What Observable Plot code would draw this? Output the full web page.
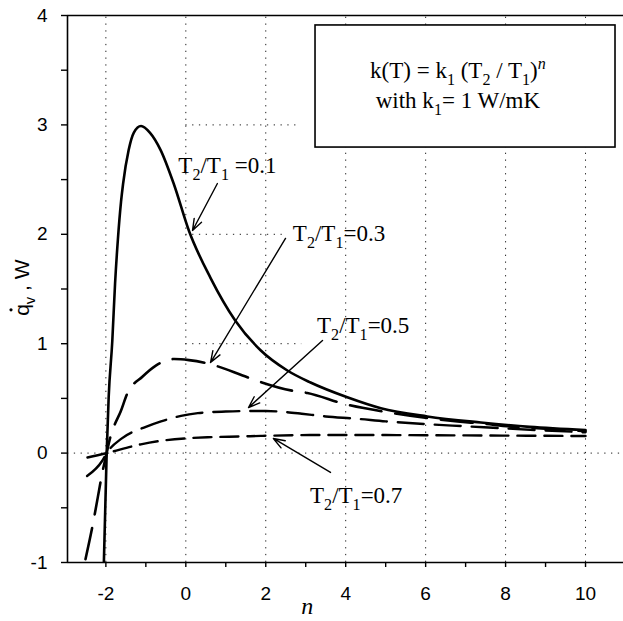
<!DOCTYPE html>
<html><head><meta charset="utf-8">
<script src="https://cdn.jsdelivr.net/npm/d3@7"></script>
<script src="https://cdn.jsdelivr.net/npm/@observablehq/plot@0.6"></script>
<style>
html,body{margin:0;padding:0;background:#fff;}
#chart{width:623px;height:621px;}
</style></head><body><div id="chart"></div>
<script>
// ---- data ----
const ratios = ["0.1", "0.3", "0.5", "0.7"];

const n01 = [-2.05, -1.98, -1.93, -1.84, -1.77, -1.70, -1.62, -1.57, -1.43, -1.30, -1.12, -0.90, -0.63, -0.30, 0.08, 0.62, 1.24, 1.87, 2.54, 3.12, 4.04, 4.88, 6.04, 7.38, 8.6, 10];
const q01 = [-1.0, 0.0, 0.51, 1.02, 1.55, 1.95, 2.30, 2.46, 2.77, 2.93, 2.99, 2.93, 2.77, 2.46, 2.03, 1.60, 1.21, 0.94, 0.755, 0.645, 0.51, 0.41, 0.335, 0.28, 0.24, 0.21];

const n03 = [-2.51, -2.32, -2.20, -2.10, -1.98, -1.90, -1.79, -1.63, -1.47, -1.08, -0.75, -0.29, 0.08, 0.54, 1.42, 1.79, 2.67, 3.04, 3.96, 5.1, 6.04, 6.8, 7.4, 8.2, 8.7, 10];
const q03 = [-0.97, -0.64, -0.40, -0.20, 0.0, 0.13, 0.25, 0.38, 0.54, 0.70, 0.80, 0.86, 0.85, 0.82, 0.71, 0.66, 0.57, 0.55, 0.45, 0.37, 0.32, 0.29, 0.27, 0.24, 0.23, 0.20];

const n05 = [-2.47, -2.09, -1.98, -1.60, -1.00, -0.62, -0.12, 0.30, 1.00, 1.60, 2.00, 2.50, 2.90, 3.50, 4.25, 5.0, 6.0, 7.0, 8.0, 10];
const q05 = [-0.21, -0.07, 0.0, 0.135, 0.24, 0.29, 0.34, 0.365, 0.38, 0.385, 0.385, 0.375, 0.36, 0.335, 0.315, 0.29, 0.265, 0.245, 0.225, 0.19];

const n07 = [-2.46, -1.98, -1.875, -1.125, -0.67, 0.0, 0.54, 1.375, 1.875, 3.1, 4.0, 5.0, 6.0, 7.0, 8.0, 9.0, 10];
const q07 = [-0.04, 0.0, 0.01, 0.08, 0.11, 0.135, 0.145, 0.152, 0.157, 0.165, 0.165, 0.165, 0.163, 0.162, 0.16, 0.158, 0.156];

const xTicks = [-2, -1, 0, 1, 2, 3, 4, 5, 6, 7, 8, 9, 10];
const xTickLabels = [-2, 0, 2, 4, 6, 8, 10];
const yTicks = [-1, -0.5, 0, 0.5, 1, 1.5, 2, 2.5, 3, 3.5, 4];
const yTickLabels = [-1, 0, 1, 2, 3, 4];
const xDomain = [-2.96, 10.95];
const yDomain = [-1, 4];

// grid lines
const xGrid = [-2, 0, 2, 4, 6, 8, 10];
const hGrid = [
  {y: 0, x1: -2.96, x2: 10.95},
  {y: 1, x1: 0, x2: 2.9},
  {y: 2, x1: 0, x2: 2.45},
  {y: 3, x1: 0, x2: 2.85}
];

// annotations (data coordinates)
const labelPos = [
  {ratio: "0.1", x: -0.175, y: 2.553, text: " =0.1"},
  {ratio: "0.3", x: 2.69, y: 1.934, text: "=0.3"},
  {ratio: "0.5", x: 3.295, y: 1.096, text: "=0.5"},
  {ratio: "0.7", x: 3.12, y: -0.461, text: "=0.7"}
];
const arrows = [
  {x1: 0.79, y1: 2.464, x2: 0.168, y2: 2.035},
  {x1: 2.494, y1: 1.962, x2: 0.618, y2: 0.828},
  {x1: 3.42, y1: 1.029, x2: 1.569, y2: 0.417},
  {x1: 3.62, y1: -0.177, x2: 2.19, y2: 0.134}
];
const box = [{x1: 3.245, x2: 10.75, y1: 3.909, y2: 2.793, cx: 6.82, line1: 3.424, line2: 3.15}];

// ---- build rows ----
const series = [
  {ratio: "0.1", n: n01, q: q01, dash: null, w: 2.6},
  {ratio: "0.3", n: n03, q: q03, dash: "32,14", w: 2.6},
  {ratio: "0.5", n: n05, q: q05, dash: "26,11", w: 2.4},
  {ratio: "0.7", n: n07, q: q07, dash: "18,9", w: 2.4}
];

const lineMarks = series.map(s => Plot.line(s.n.map((v, i) => ({n: v, q: s.q[i]})), {
  x: "n", y: "q", stroke: "black", strokeWidth: s.w,
  strokeDasharray: s.dash || undefined, curve: "monotone-x", clip: true
}));

const dotted = "1.3,5.5";

const plot = Plot.plot({
  width: 623, height: 621,
  marginLeft: 67, marginRight: 0, marginTop: 15, marginBottom: 59,
  style: {fontFamily: "'Liberation Sans', Arial, sans-serif", fontSize: "19px", background: "white", color: "black"},
  y: {domain: yDomain, label: null},
  x: {domain: xDomain, label: null},
  marks: [
    Plot.ruleX(xGrid, {y1: yDomain[0], y2: yDomain[1], stroke: "#222", strokeWidth: 1, strokeDasharray: dotted}),
    Plot.ruleY(hGrid, {y: "y", x1: "x1", x2: "x2", stroke: "#222", strokeWidth: 1, strokeDasharray: dotted}),
    ...lineMarks,
    Plot.arrow(arrows, {x1: "x1", y1: "y1", x2: "x2", y2: "y2", stroke: "black", strokeWidth: 1.4, headLength: 13, headAngle: 40}),
    Plot.rect(box, {x1: "x1", x2: "x2", y1: "y1", y2: "y2", fill: "white", stroke: "black", strokeWidth: 1.6}),
    Plot.ruleY([yDomain[1]], {stroke: "black", strokeWidth: 1.6}),
    Plot.ruleY([yDomain[0]], {stroke: "black", strokeWidth: 1.6}),
    Plot.ruleX([xDomain[0]], {stroke: "black", strokeWidth: 1.6}),
    Plot.axisY({ticks: yTicks, tickSize: 6, tickPadding: 14, tickFormat: d => yTickLabels.includes(d) ? String(d) : "", strokeWidth: 1.4}),
    Plot.axisX({ticks: xTicks, tickSize: 5, tickPadding: 19, tickFormat: d => xTickLabels.includes(d) ? String(d) : "", strokeWidth: 1.4, label: null})
  ]
});

document.getElementById("chart").appendChild(plot);

const svg = d3.select(plot);
// drop the empty labels of the minor ticks
svg.selectAll("text").filter(function () { return this.textContent === ""; }).remove();

// ---- rich text annotations positioned through the plot's own scales ----
const xs = plot.scale("x"), ys = plot.scale("y");
const X = d3.scaleLinear(xs.domain, xs.range);
const Y = d3.scaleLinear(ys.domain, ys.range);
const g = svg.append("g").attr("font-family", "'Liberation Serif', 'Times New Roman', serif").attr("fill", "black");

// segments: [text, kind] kind: "" normal, "sub", "sup"
function rich(parent, x, y, size, anchor, segs) {
  const t = parent.append("text").attr("x", x).attr("y", y).attr("font-size", size).attr("text-anchor", anchor);
  let shift = 0;
  for (const [txt, kind, italic] of segs) {
    const target = kind === "sub" ? size * 0.3 : kind === "sup" ? -size * 0.38 : 0;
    const ts = t.append("tspan").attr("dy", target - shift)
      .attr("font-size", kind ? size * 0.7 : size).text(txt);
    if (italic) ts.attr("font-style", "italic");
    shift = target;
  }
  return t;
}

const fs = 23;
for (const l of labelPos) {
  rich(g, X(l.x), Y(l.y), fs, "start", [["T", ""], ["2", "sub"], ["/T", ""], ["1", "sub"], [l.text, ""]]);
}

for (const b of box) {
  rich(g, X(b.cx), Y(b.line1), fs, "middle",
    [["k(T) = k", ""], ["1", "sub"], [" (T", ""], ["2", "sub"], [" / T", ""], ["1", "sub"], [")", ""], ["n", "sup", true]]);
  rich(g, X(b.cx), Y(b.line2), fs, "middle",
    [["with k", ""], ["1", "sub"], ["= 1 W/mK", ""]]);
}

// x-axis label (italic n)
const xLabelAt = {x: 3.05};
svg.append("text").attr("x", X(xLabelAt.x)).attr("y", Y(yDomain[0]) + 52)
  .attr("font-family", "'Liberation Serif', serif").attr("font-style", "italic").attr("font-size", 24)
  .attr("text-anchor", "middle").text("n");

// y-axis label  q̇_v , W (rotated)
const yLabelAt = {y: 1.25};
const yl = svg.append("g").attr("transform", `translate(29,${Y(yLabelAt.y)}) rotate(-90)`)
  .attr("font-family", "'Liberation Sans', Arial, sans-serif");
rich(yl, 0, 0, 21, "start", [["q", ""], ["v", "sub"], [" , W", ""]]);
yl.append("circle").attr("cx", 6).attr("cy", -18).attr("r", 1.6).attr("fill", "black");
</script>
</body></html>
